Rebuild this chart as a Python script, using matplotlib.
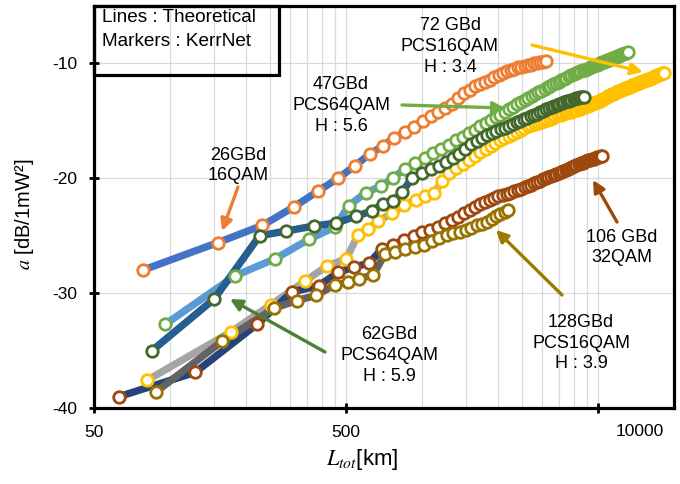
import matplotlib
matplotlib.use("Agg")
import matplotlib.pyplot as plt
from matplotlib.patches import Rectangle

plt.rcParams['font.family'] = ['Liberation Sans', 'DejaVu Sans']
plt.rcParams['mathtext.fontset'] = 'stix'

# ---------------- data (distance km, a dB/1mW^2) ----------------
dist_26g = [78, 155, 233, 310, 388, 465, 543, 620, 698, 775, 853, 930, 1008, 1085, 1163, 1240,
            1318, 1395, 1473, 1550, 1628, 1705, 1783, 1860, 1938, 2015, 2093, 2170, 2248, 2325,
            2403, 2480, 2558, 2635, 2713, 2790, 2868, 2945, 3023, 3100]
a_26g = [-28.0, -25.6, -24.1, -22.5, -21.1, -20.0, -18.9, -17.9, -17.2, -16.5, -16.0, -15.5,
         -15.0, -14.6, -14.2, -13.9, -13.5, -13.0, -12.6, -12.3, -12.0, -11.8, -11.6, -11.4,
         -11.2, -11.0, -10.85, -10.7, -10.55, -10.45, -10.35, -10.3, -10.2, -10.15, -10.1,
         -10.0, -9.95, -9.9, -9.85, -9.8]

dist_47g = [96, 181, 262, 357, 452, 512, 598, 686, 770, 855, 940, 1025,
            1110, 1195, 1280, 1365, 1450, 1535, 1620, 1705, 1790, 1875, 1960, 2045, 2130, 2215,
            2300, 2385, 2470, 2555, 2640, 2725, 2810, 2895, 2980, 3065, 3150, 3235, 3320, 3405,
            3490, 3575, 3660, 3745, 3830, 3915, 4000, 4085, 4170, 4255, 4340, 4425, 4510, 4595,
            4680, 4765, 4850, 4935, 5020, 5105, 5190, 5275, 5360, 5445, 5530, 5615, 5700, 5785,
            5870, 5955, 6040, 6125, 6210, 6295, 6380, 6465, 6550]
a_47g = [-32.7, -28.5, -27.0, -25.3, -24.25, -22.4, -21.25, -20.7, -19.95, -19.2, -18.7, -18.25,
         -17.83, -17.43, -17.06, -16.71, -16.38, -16.07, -15.78, -15.49, -15.21, -14.95, -14.70,
         -14.46, -14.22, -13.99, -13.77, -13.55, -13.35, -13.16, -12.99, -12.83, -12.67, -12.51,
         -12.36, -12.21, -12.07, -11.94, -11.82, -11.70, -11.58, -11.46, -11.35, -11.24, -11.13,
         -11.03, -10.93, -10.85, -10.77, -10.69, -10.61, -10.54, -10.46, -10.39, -10.32, -10.25,
         -10.18, -10.11, -10.04, -9.98, -9.91, -9.85, -9.79, -9.73, -9.67, -9.61, -9.55, -9.49,
         -9.43, -9.38, -9.32, -9.27, -9.21, -9.16, -9.11, -9.06, -9.00]

dist_62g = [85, 150, 227, 289, 373, 455, 549, 632, 700, 767, 835, 914, 1002, 1083, 1164, 1245,
            1326, 1407, 1488, 1569, 1650, 1731, 1812, 1893, 1974, 2055, 2136, 2217, 2298, 2379,
            2460, 2541, 2622, 2703, 2784, 2865, 2946, 3027, 3108, 3189, 3270, 3351, 3432, 3513,
            3594, 3675, 3756, 3837, 3918, 3999, 4080, 4161, 4242, 4323, 4404]
a_62g = [-35.0, -30.5, -25.0, -24.6, -24.15, -23.9, -23.3, -22.85, -22.2, -22.0, -21.2, -19.95,
         -19.5, -19.22, -18.92, -18.60, -18.26, -17.92, -17.47, -17.03, -16.72, -16.45, -16.23,
         -16.06, -15.89, -15.73, -15.58, -15.44, -15.29, -15.14, -14.99, -14.86, -14.73, -14.61,
         -14.50, -14.37, -14.24, -14.11, -13.98, -13.87, -13.78, -13.70, -13.62, -13.53, -13.46,
         -13.38, -13.30, -13.23, -13.16, -13.09, -13.05, -13.00, -12.96, -12.92, -12.88]

dist_72g = [81, 174, 252, 344, 419, 501, 559, 612, 671, 758, 848, 943, 1033,
            1117, 1201, 1285, 1369, 1453, 1537, 1621, 1705, 1789, 1873, 1957, 2041, 2125, 2209,
            2293, 2377, 2461, 2545, 2629, 2713, 2797, 2881, 2965, 3049, 3133, 3217, 3301, 3385,
            3469, 3553, 3637, 3721, 3805, 3889, 3973, 4057, 4141, 4225, 4309, 4393, 4477, 4561,
            4645, 4729, 4813, 4897, 4981, 5065, 5149, 5233, 5317, 5401, 5485, 5569, 5653, 5737,
            5821, 5905, 5989, 6073, 6157, 6241, 6325, 6409, 6493, 6577, 6661, 6745, 6829, 6913,
            6997, 7081, 7165, 7249, 7333, 7417, 7501, 7585, 7669, 7753, 7837, 7921, 8005, 8089,
            8173, 8257, 8341, 8425, 8509, 8593, 8677, 8761, 8845, 8929, 9013, 9097]
a_72g = [-37.6, -33.4, -31.0, -28.95, -27.65, -27.0, -24.9, -24.4, -23.75, -23.05, -22.35, -21.85,
         -21.55, -21.32, -20.27, -19.58, -19.13, -18.72, -18.37, -18.03, -17.72, -17.42, -17.16,
         -16.91, -16.69, -16.50, -16.31, -16.13, -15.95, -15.78, -15.61, -15.45, -15.35, -15.26,
         -15.17, -15.08, -14.99, -14.90, -14.80, -14.71, -14.62, -14.53, -14.45, -14.38, -14.32,
         -14.26, -14.19, -14.13, -14.08, -14.02, -13.95, -13.88, -13.82, -13.75, -13.69, -13.62,
         -13.55, -13.48, -13.40, -13.33, -13.25, -13.18, -13.10, -13.02, -12.94, -12.86, -12.78,
         -12.70, -12.63, -12.56, -12.49, -12.43, -12.38, -12.32, -12.27, -12.22, -12.17, -12.12,
         -12.07, -12.02, -11.97, -11.92, -11.87, -11.83, -11.78, -11.74, -11.69, -11.65, -11.61,
         -11.56, -11.52, -11.48, -11.44, -11.40, -11.36, -11.32, -11.28, -11.24, -11.19, -11.15,
         -11.11, -11.07, -11.03, -10.99, -10.95, -10.91, -10.87, -10.83, -10.79]

dist_106g = [63, 126, 222, 305, 390, 465, 540, 617, 693, 770, 848, 926, 1003, 1081, 1158, 1236,
             1313, 1391, 1468, 1546, 1623, 1701, 1778, 1856, 1933, 2011, 2088, 2166, 2243, 2321,
             2398, 2476, 2553, 2631, 2708, 2786, 2863, 2941, 3018, 3096, 3173, 3251, 3328, 3406,
             3483, 3561, 3638, 3716, 3793, 3871, 3948, 4026, 4103, 4181, 4258, 4336, 4413, 4491,
             4568, 4646, 4723, 4801, 4878, 4956, 5033, 5111, 5188]
a_106g = [-39.0, -36.9, -32.7, -29.9, -29.35, -28.2, -27.7, -27.4, -26.15, -25.8, -25.35, -25.05,
          -24.7, -24.48, -24.21, -23.93, -23.63, -23.33, -23.03, -22.74, -22.49, -22.26, -22.05,
          -21.88, -21.73, -21.58, -21.46, -21.35, -21.24, -21.12, -21.01, -20.90, -20.79, -20.67,
          -20.56, -20.45, -20.33, -20.22, -20.10, -19.99, -19.89, -19.79, -19.70, -19.61, -19.52,
          -19.44, -19.35, -19.27, -19.19, -19.11, -19.03, -18.95, -18.87, -18.79, -18.71, -18.63,
          -18.55, -18.48, -18.43, -18.38, -18.33, -18.28, -18.23, -18.18, -18.14, -18.10, -18.06]

dist_128g = [88, 161, 260, 318, 380, 450, 510, 565, 641, 713, 781, 855, 935, 1015, 1094, 1174,
             1253, 1332, 1412, 1491, 1570, 1650, 1729, 1808, 1888, 1967, 2046, 2126, 2205]
a_128g = [-38.6, -34.2, -31.3, -30.65, -30.2, -29.3, -29.05, -28.75, -28.4, -26.6, -26.45, -26.15,
          -26.0, -25.85, -25.48, -25.18, -24.95, -24.78, -24.65, -24.48, -24.29, -24.11, -23.95,
          -23.79, -23.56, -23.30, -23.08, -22.90, -22.75]

x_ticks = [50, 500, 5000]
x_tick_labels = ['50', '500', '']
y_ticks = [-40, -30, -20, -10]

# (distances, values, theory line colour, marker colour), in drawing order
series = [
    (dist_26g, a_26g, '#4472C4', '#ED7D31'),
    (dist_72g, a_72g, '#A5A5A5', '#FFC000'),
    (dist_47g, a_47g, '#5B9BD5', '#70AD47'),
    (dist_62g, a_62g, '#255E91', '#43682B'),
    (dist_106g, a_106g, '#264478', '#9E480E'),
    (dist_128g, a_128g, '#636363', '#997300'),
]

W, H = 680, 484
fig = plt.figure(figsize=(W / 100, H / 100), dpi=100)
ax = fig.add_axes([94 / W, 1 - 408 / H, 580 / W, 402 / H])

for d, a, lc, mc in series:
    ax.plot(d, a, color=lc, lw=5.3, solid_capstyle='round', solid_joinstyle='round', zorder=2)
for i, (d, a, lc, mc) in enumerate(series):
    ax.plot(d, a, ls='none', marker='o', ms=8.3, mfc='white', mec=mc, mew=2.0, zorder=3 + i)

ax.set_xscale('log')
ax.set_xlim(50, 10000)
ax.set_ylim(-40, -5)
ax.set_xticks(x_ticks)
ax.set_xticklabels(x_tick_labels)
minor = [50 * k * 10 ** n for n in range(3) for k in range(2, 10)]
ax.set_xticks([m for m in minor if m < 10000], minor=True)
ax.set_xticklabels([], minor=True)
ax.set_yticks(y_ticks)
ax.set_yticklabels([str(v) for v in y_ticks])

ax.grid(True, which='both', axis='x', color='#D9D9D9', lw=0.9, zorder=0)
ax.grid(True, which='major', axis='y', color='#D9D9D9', lw=0.9, zorder=0)
ax.set_axisbelow(True)
ax.tick_params(which='major', direction='inout', length=7, width=2, labelsize=12.5, pad=8.5,
               colors='black')
ax.tick_params(which='minor', length=0)
for s in ax.spines.values():
    s.set_linewidth(2.3)
    s.set_color('black')

ax.set_xlabel(r'$L_{tot}$[km]', fontsize=16)
ax.xaxis.set_label_coords((362 - 94) / 580, (408 - 447) / 402)
ax.set_ylabel(r'$a$ [dB/1mW²]', fontsize=14.5)
ax.yaxis.set_label_coords((36 - 94) / 580, (408 - 214) / 402)

fig.text(640 / W, 1 - 431 / H, '10000', ha='center', va='center', fontsize=12.5)

# legend-like box
fig.patches.append(Rectangle((94 / W, 1 - 75 / H), (279 - 94) / W, (75 - 6) / H,
                             transform=fig.transFigure, fill=False, ec='black', lw=2.3,
                             zorder=20))
fig.text(102 / W, 1 - 18 / H, 'Lines : Theoretical', ha='left', va='center', fontsize=13.7)
fig.text(102 / W, 1 - 41 / H, 'Markers : KerrNet', ha='left', va='center', fontsize=13.7)


def note(txt, cx, cy, tail, head, color):
    fig.text(cx / W, 1 - cy / H, txt, ha='center', va='center', fontsize=13,
             linespacing=1.3, zorder=30)
    ax.annotate('', xy=(head[0], H - head[1]), xycoords='figure pixels',
                xytext=(tail[0], H - tail[1]), textcoords='figure pixels',
                arrowprops=dict(arrowstyle='-|>,head_length=0.7,head_width=0.35',
                                color=color, lw=2.4, shrinkA=0, shrinkB=0),
                zorder=30)


note('26GBd\n16QAM', 238, 165.5, (238, 187), (222, 231), '#ED7D31')
note('47GBd\nPCS64QAM\nH : 5.6', 341, 105.5, (402, 105), (505, 108), '#70AD47')
note('72 GBd\nPCS16QAM\nH : 3.4', 450, 46.5, (532, 45), (643, 72), '#FFC000')
note('62GBd\nPCS64QAM\nH : 5.9', 389, 355.5, (325, 352), (230, 299), '#507E32')
note('128GBd\nPCS16QAM\nH : 3.9', 581, 343, (562, 295), (496, 230), '#9C7A00')
note('106 GBd\n32QAM', 622, 247.5, (617, 222), (593, 180), '#9E480E')

fig.savefig('out.png', dpi=100)
